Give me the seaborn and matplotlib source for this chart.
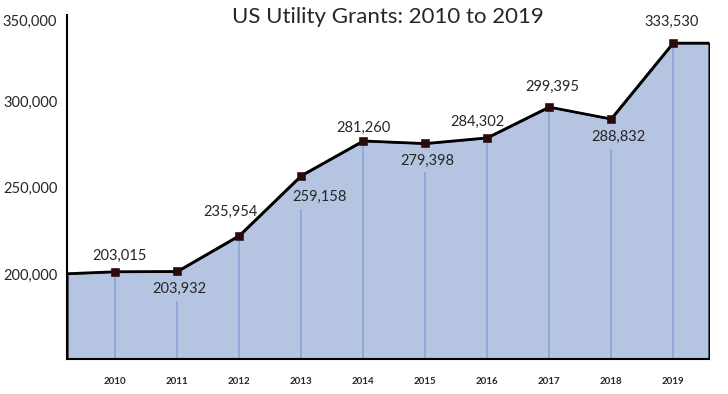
import matplotlib
matplotlib.use("Agg")
import matplotlib.pyplot as plt
import seaborn as sns
import pandas as pd

# data
years = [2010, 2011, 2012, 2013, 2014, 2015, 2016, 2017, 2018, 2019]
grant_labels = ["203,015", "203,932", "235,954", "259,158", "281,260",
                "279,398", "284,302", "299,395", "288,832", "333,530"]
# heights where the markers actually sit in the picture
marker_vals = [201550, 201700, 222400, 257100, 277200,
               275700, 279000, 296800, 289900, 333800]
start_val = 200400
end_val = 333800
x_lo, x_hi = 2009.22, 2019.58
y_lo, y_hi = 151000, 350000
yticks = [200000, 250000, 300000, 350000]

# label nudges in pixels (dx, dy), positive dy = above the marker
label_dx = [4, 2, -9, 18, 0, 2, -10, 3, 7, -1]
label_dy = [16, -18, 24, -21, 13, -17, 16, 20, -18, 21]

FILL = "#b4c4e1"
VLINE = "#8ea7d5"
TEXT = "#262626"

sns.set_theme(style="white")
plt.rcParams["font.family"] = ["Lato", "DejaVu Sans"]

fig = plt.figure(figsize=(7.28, 3.94), dpi=100)
ax = fig.add_axes([67 / 728, 1 - 359 / 394, (709 - 67) / 728, (359 - 15) / 394])

line_df = pd.DataFrame({
    "x": [x_lo] + years + [x_hi],
    "y": [start_val] + marker_vals + [end_val],
})

ax.fill_between(line_df["x"], line_df["y"], y_lo, facecolor=FILL,
                edgecolor="black", linewidth=1.5, zorder=1)

# thin guide lines, stopping short of labels placed below the marker
per_px = (y_hi - y_lo) / 344
tops = [v if dy > 0 else v - (abs(dy) + 12) * per_px
        for v, dy in zip(marker_vals, label_dy)]
ax.vlines(years, y_lo, tops, color=VLINE, linewidth=1.3, zorder=2)

sns.lineplot(data=line_df, x="x", y="y", color="black", linewidth=1.8,
             ax=ax, zorder=3)
sns.scatterplot(x=years, y=marker_vals, marker="s", s=30, color="#2b0a0a",
                edgecolor="#2b0a0a", ax=ax, zorder=4)

for yr, v, lab, dx, dy in zip(years, marker_vals, grant_labels, label_dx, label_dy):
    ax.annotate(lab, (yr, v), xytext=(dx, dy), textcoords="offset pixels",
                ha="center", va="center", fontsize=10.5, color=TEXT, zorder=5)

ax.set_xlim(x_lo, x_hi)
ax.set_ylim(y_lo, y_hi)
ax.set_xticks(years)
ax.set_xticklabels([str(y) for y in years], fontsize=7, fontweight="bold",
                   color=TEXT)
ax.set_yticks(yticks)
ax.set_yticklabels([f"{v:,}" for v in yticks], fontsize=10.5, color=TEXT)
ax.get_yticklabels()[-1].set_verticalalignment("top")
ax.tick_params(axis="x", length=0, pad=13)
ax.tick_params(axis="y", length=0, pad=7)
ax.set_xlabel("")
ax.set_ylabel("")

for side in ["top", "right"]:
    ax.spines[side].set_visible(False)
for side in ["left", "bottom"]:
    ax.spines[side].set_color("black")
    ax.spines[side].set_linewidth(1.5)

fig.text(388 / 728, 1 - 17 / 394, "US Utility Grants: 2010 to 2019",
         ha="center", va="center", fontsize=16, color=TEXT)

fig.savefig("out.png", dpi=100)
